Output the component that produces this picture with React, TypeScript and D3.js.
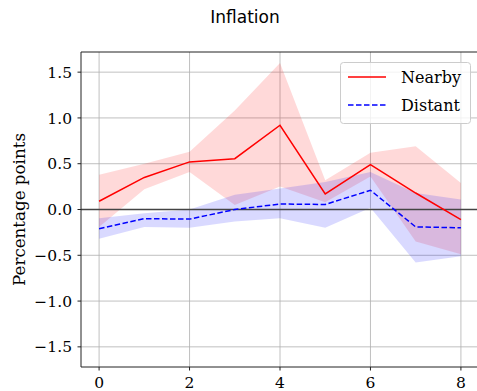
import React from 'react';
import * as d3 from 'd3';

// horizon (quarters)
const steps = [0, 1, 2, 3, 4, 5, 6, 7, 8];

const nearby = [0.09, 0.35, 0.52, 0.555, 0.92, 0.17, 0.49, 0.18, -0.11];
const nearbyLow = [-0.19, 0.22, 0.41, 0.05, 0.25, 0.08, 0.36, -0.35, -0.49];
const nearbyHigh = [0.38, 0.5, 0.63, 1.08, 1.6, 0.32, 0.62, 0.69, 0.29];

const distant = [-0.21, -0.1, -0.105, 0.0, 0.06, 0.055, 0.21, -0.19, -0.2];
const distantLow = [-0.32, -0.19, -0.2, -0.13, -0.095, -0.2, 0.02, -0.58, -0.51];
const distantHigh = [-0.095, -0.04, 0.0, 0.16, 0.23, 0.3, 0.41, 0.18, 0.11];

const xTicks = [0, 2, 4, 6, 8];
const yTicks = [-1.5, -1.0, -0.5, 0.0, 0.5, 1.0, 1.5];

const W = 477;
const H = 391;
const margin = { top: 52, right: -2, bottom: 24, left: 81 };
const serif = '"DejaVu Serif", "Liberation Serif", serif';
const fs = 15.5;

function App() {
  const x = d3.scaleLinear().domain([-0.4, 8.4]).range([margin.left, W - margin.right]);
  const y = d3.scaleLinear().domain([-1.72, 1.72]).range([H - margin.bottom, margin.top]);

  const line = d3.line<number>().x((_, i) => x(steps[i])).y(d => y(d));
  const band = (lo: number[], hi: number[]) =>
    d3.area<number>()
      .x((_, i) => x(steps[i]))
      .y0((_, i) => y(lo[i]))
      .y1((_, i) => y(hi[i]))(steps);

  const fmt = (v: number) => (v < 0 ? '\u2212' + Math.abs(v).toFixed(1) : v.toFixed(1));

  return (
    <svg width={W} height={H} style={{ position: 'absolute', left: 0, top: 0 }}>
      <rect width={W} height={H} fill="white" />
      <text x={245} y={23} textAnchor="middle" fontFamily='"DejaVu Sans", sans-serif' fontSize={17}>
        Inflation
      </text>

      {/* grid */}
      {xTicks.map(t => (
        <line key={'gx' + t} x1={x(t)} x2={x(t)} y1={margin.top} y2={H - margin.bottom} stroke="#b0b0b0" strokeWidth={0.8} />
      ))}
      {yTicks.map(t => (
        <line key={'gy' + t} x1={margin.left} x2={W} y1={y(t)} y2={y(t)} stroke="#b0b0b0" strokeWidth={0.8} />
      ))}

      {/* confidence bands */}
      <path d={band(nearbyLow, nearbyHigh) || ''} fill="red" fillOpacity={0.15} />
      <path d={band(distantLow, distantHigh) || ''} fill="blue" fillOpacity={0.15} />

      {/* zero line */}
      <line x1={margin.left} x2={W} y1={y(0)} y2={y(0)} stroke="#444" strokeWidth={1.5} />

      <path d={line(nearby) || ''} fill="none" stroke="red" strokeWidth={1.5} />
      <path d={line(distant) || ''} fill="none" stroke="blue" strokeWidth={1.5} strokeDasharray="5.5,2.5" />

      {/* spines */}
      <line x1={margin.left} x2={margin.left} y1={margin.top} y2={H - margin.bottom} stroke="#222" strokeWidth={1} />
      <line x1={margin.left} x2={W} y1={margin.top} y2={margin.top} stroke="#222" strokeWidth={1} />
      <line x1={margin.left} x2={W} y1={H - margin.bottom} y2={H - margin.bottom} stroke="#222" strokeWidth={1} />

      {/* ticks */}
      {xTicks.map(t => (
        <g key={'tx' + t}>
          <line x1={x(t)} x2={x(t)} y1={H - margin.bottom} y2={H - margin.bottom + 3.5} stroke="#222" />
          <text x={x(t)} y={H - margin.bottom + 21} textAnchor="middle" fontFamily={serif} fontSize={fs}>
            {t}
          </text>
        </g>
      ))}
      {yTicks.map(t => (
        <g key={'ty' + t}>
          <line x1={margin.left - 3.5} x2={margin.left} y1={y(t)} y2={y(t)} stroke="#222" />
          <text x={margin.left - 9} y={y(t)} dy="0.36em" textAnchor="end" fontFamily={serif} fontSize={fs}>
            {fmt(t)}
          </text>
        </g>
      ))}

      <text transform={`translate(25,209.5) rotate(-90)`} textAnchor="middle" fontFamily={serif} fontSize={16.7}>
        Percentage points
      </text>

      {/* legend */}
      <g>
        <rect x={340.5} y={62.5} width={130} height={61} rx={3} fill="white" fillOpacity={0.8} stroke="#ccc" />
        <line x1={348} x2={386} y1={77} y2={77} stroke="red" strokeWidth={1.5} />
        <text x={401} y={77} dy="0.36em" fontFamily={serif} fontSize={16}>Nearby</text>
        <line x1={348} x2={386} y1={105} y2={105} stroke="blue" strokeWidth={1.5} strokeDasharray="5.5,2.5" />
        <text x={401} y={105} dy="0.36em" fontFamily={serif} fontSize={16}>Distant</text>
      </g>
    </svg>
  );
}

export default App;
